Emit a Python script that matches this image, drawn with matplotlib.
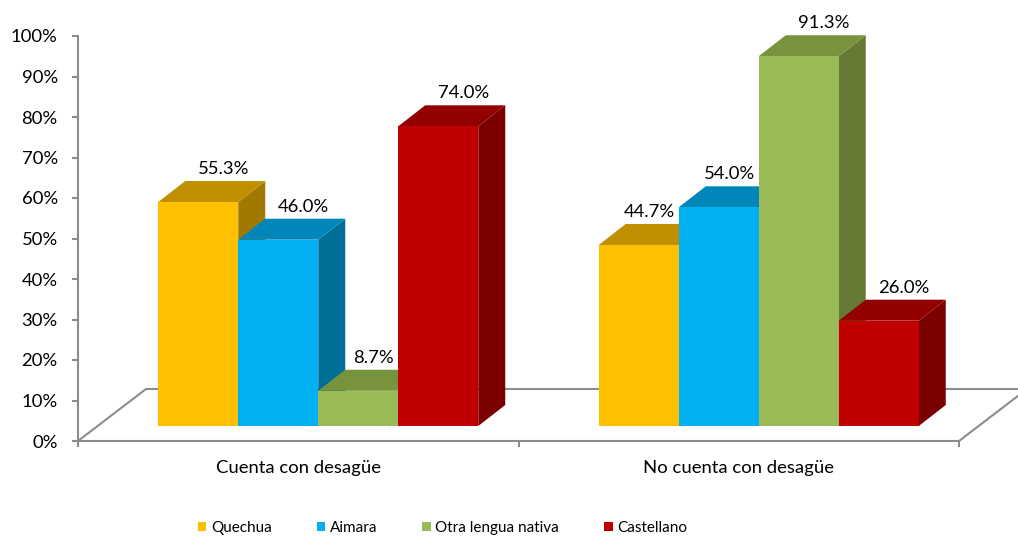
import matplotlib
matplotlib.use("Agg")
import matplotlib.pyplot as plt
from matplotlib.patches import Polygon, Patch

# ---- data ----
categories = ["Cuenta con desagüe", "No cuenta con desagüe"]
series_names = ["Quechua", "Aimara", "Otra lengua nativa", "Castellano"]
quechua = [55.3, 44.7]
aimara = [46.0, 54.0]
otra = [8.7, 91.3]
castellano = [74.0, 26.0]
ytick_values = [0, 10, 20, 30, 40, 50, 60, 70, 80, 90, 100]
ytick_labels = ["0%", "10%", "20%", "30%", "40%", "50%", "60%", "70%", "80%", "90%", "100%"]

# ---- style ----
front_colors = ["#FFC000", "#00B0F0", "#9BBB59", "#C00000"]
top_colors = ["#C09000", "#0086B8", "#77933C", "#920000"]
side_colors = ["#A07A00", "#006F98", "#667A35", "#7A0000"]
axis_color = "#8C8C8C"
FONT = ["Lato", "DejaVu Sans"]
plt.rcParams["font.family"] = FONT

W, H = 1018, 539
fig = plt.figure(figsize=(W / 100, H / 100), dpi=100)
# axes: x 78..959 px, y 441 (0%) .. 36 (100%)
ax = fig.add_axes([78 / W, (H - 441) / H, (959 - 78) / W, (441 - 36) / H])
ax.set_xlim(0, 2)
ax.set_ylim(0, 100)

px_x = 2 / (959 - 78)      # data units per pixel in x
px_y = 100 / (441 - 36)    # data units per pixel in y

# 3D geometry in pixels
floor_dx, floor_dy = 68 * px_x, 52 * px_y
front_dx, front_dy = 20 * px_x, 15 * px_y
depth_dx, depth_dy = 27 * px_x, 21 * px_y
bar_w = 80 * px_x

# floor outline
ax.plot([0, floor_dx, 2 + floor_dx], [0, floor_dy, floor_dy], color=axis_color, lw=1.5,
        clip_on=False, zorder=1, solid_capstyle="butt")
ax.plot([2, 2 + floor_dx], [0, floor_dy], color=axis_color, lw=1.5, clip_on=False, zorder=1)

series = [quechua, aimara, otra, castellano]
n = len(series)
for g in range(len(categories)):
    center = g + 0.5
    for i, vals in enumerate(series):
        v = vals[g]
        x0 = center + (i - n / 2) * bar_w + front_dx
        x1 = x0 + bar_w
        y0 = front_dy
        y1 = front_dy + v
        z = 2 + i * 0.01
        side = Polygon([(x1, y0), (x1 + depth_dx, y0 + depth_dy), (x1 + depth_dx, y1 + depth_dy), (x1, y1)],
                       closed=True, facecolor=side_colors[i], edgecolor="none", zorder=z, clip_on=False)
        top = Polygon([(x0, y1), (x1, y1), (x1 + depth_dx, y1 + depth_dy), (x0 + depth_dx, y1 + depth_dy)],
                      closed=True, facecolor=top_colors[i], edgecolor="none", zorder=z, clip_on=False)
        front = Polygon([(x0, y0), (x1, y0), (x1, y1), (x0, y1)],
                        closed=True, facecolor=front_colors[i], edgecolor="none", zorder=z, clip_on=False)
        ax.add_patch(side)
        ax.add_patch(top)
        ax.add_patch(front)

        label = f"{v:.1f}%"
        lx = (x0 + x1) / 2 + 25 * px_x
        half_w = (len(label) * 5.5) * px_x
        ly = y1 + depth_dy + 7 * px_y
        ha = "center"
        if i + 1 < n and series[i + 1][g] > v:
            next_x0 = x1
            if lx + half_w > next_x0:
                lx = next_x0 - 4 * px_x
                ha = "right"
        ax.text(lx, ly, label, ha=ha, va="baseline", fontsize=13.3, color="#000000",
                zorder=10, clip_on=False)

# axes styling
for s in ["top", "right"]:
    ax.spines[s].set_visible(False)
for s in ["left", "bottom"]:
    ax.spines[s].set_color(axis_color)
    ax.spines[s].set_linewidth(1.5)
    ax.spines[s].set_zorder(1)
ax.set_yticks(ytick_values)
ax.set_yticklabels(ytick_labels)
ax.tick_params(axis="y", direction="out", length=4.5, width=1.5, color=axis_color,
               labelsize=13.3, pad=10, labelcolor="#000000")
ax.set_xticks([0, 1, 2])
ax.set_xticklabels([])
ax.tick_params(axis="x", which="major", direction="out", length=4, width=1.5, color=axis_color)
ax.set_xticks([0.5, 1.5], minor=True)
ax.set_xticklabels(categories, minor=True)
ax.tick_params(axis="x", which="minor", length=0, labelsize=13.3, pad=14, labelcolor="#000000")
ax.patch.set_visible(False)

# legend
handles = [Patch(facecolor=c, edgecolor="none") for c in front_colors]
fig.legend(handles, series_names, loc="center left", bbox_to_anchor=(198 / W, (H - 528) / H),
           ncol=4, frameon=False, fontsize=11, handlelength=0.55, handleheight=0.55,
           handletextpad=0.3, columnspacing=2.95, borderpad=0, borderaxespad=0)

fig.savefig("out.png", dpi=100)
